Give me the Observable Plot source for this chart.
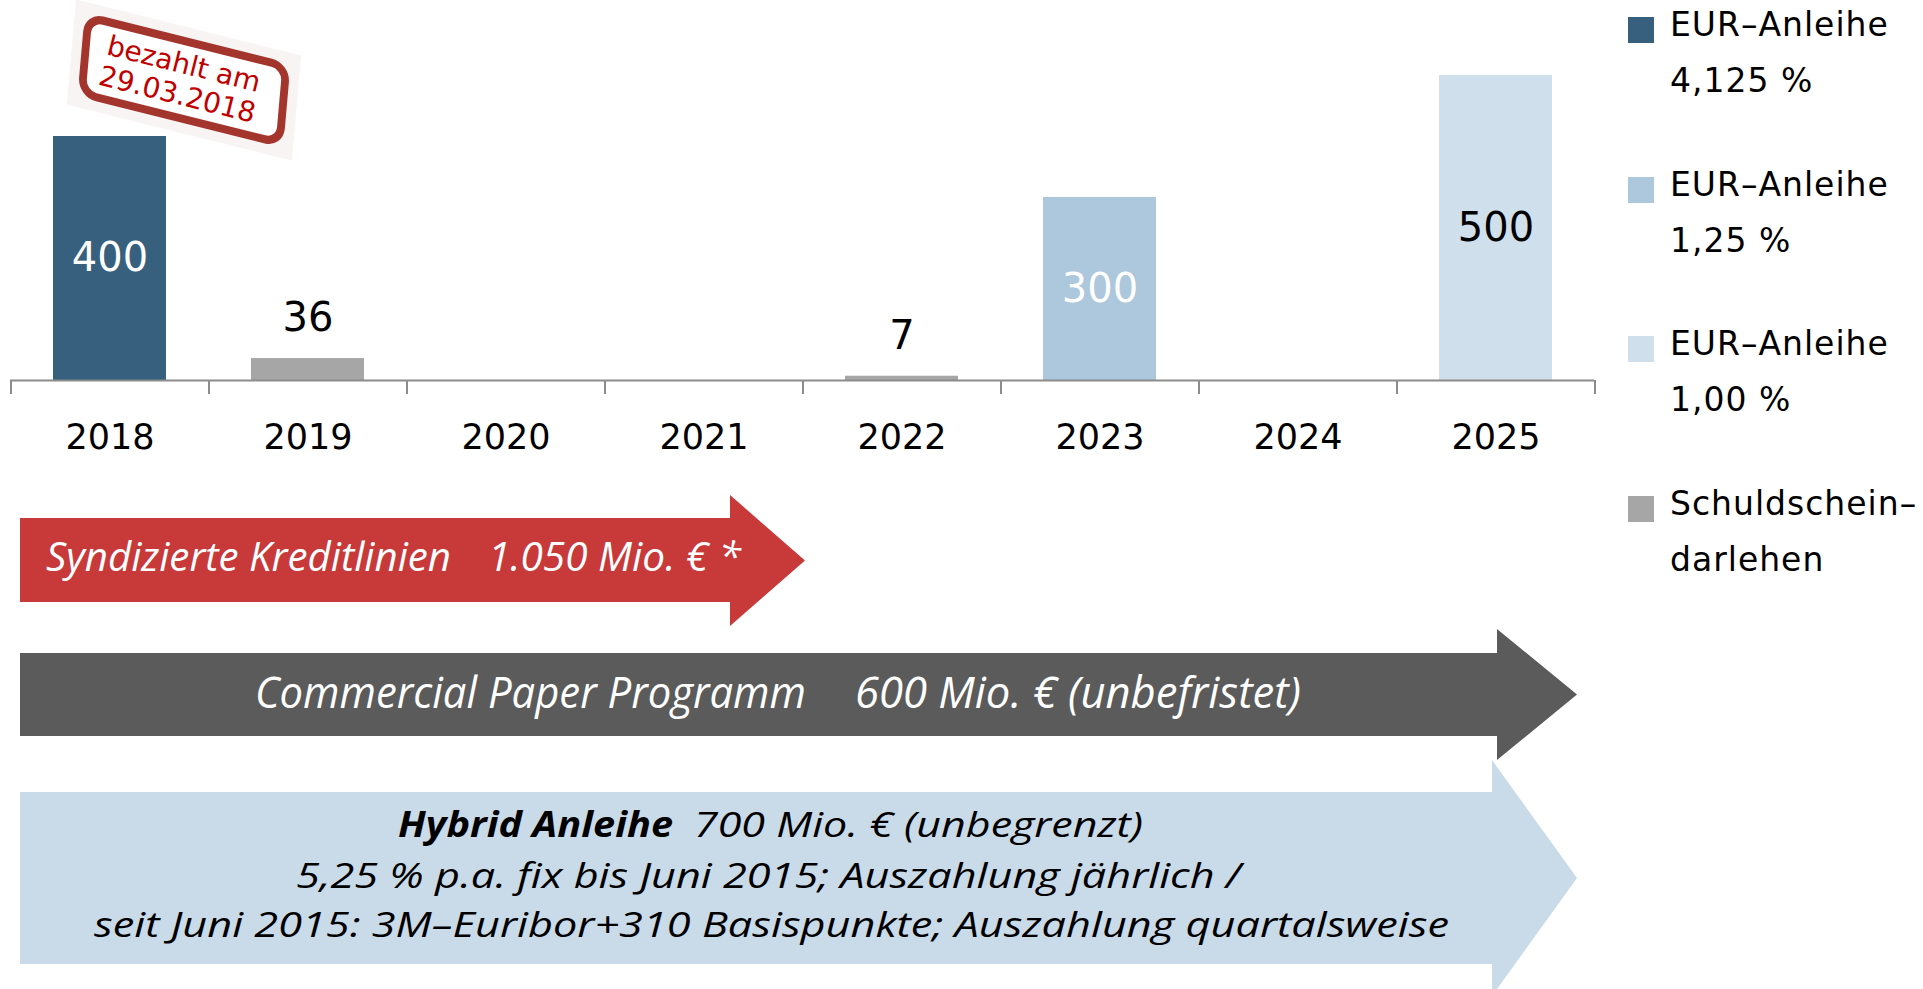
<!DOCTYPE html>
<html><head><meta charset="utf-8">
<script src="https://cdn.jsdelivr.net/npm/d3@7"></script>
<script src="https://cdn.jsdelivr.net/npm/@observablehq/plot@0.6"></script>
<style>
html,body{margin:0;padding:0;background:#fff;overflow:hidden}
#root{position:relative;width:1923px;height:989px}
#chart{position:absolute;left:0;top:0}
#overlay{position:absolute;left:0;top:0}
#legend{position:absolute;left:0;top:0}
.lg-sw{position:absolute;width:26px;height:26px}
.lg-tx{position:absolute;font-family:"DejaVu Sans",sans-serif;font-size:33px;letter-spacing:1px;color:#000;white-space:nowrap;line-height:56px}
</style></head>
<body><div id="root"><div id="chart"></div><svg id="overlay" width="1923" height="989"></svg><div id="legend"></div></div>
<script>
// ---- data ----
const years = ["2018","2019","2020","2021","2022","2023","2024","2025"];
const amounts = [400, 36, 0, 0, 7, 300, 0, 500];
const instruments = ["EUR–Anleihe 4,125 %","Schuldscheindarlehen",null,null,"Schuldscheindarlehen","EUR–Anleihe 1,25 %",null,"EUR–Anleihe 1,00 %"];

const seriesKeys = ["EUR–Anleihe 4,125 %","EUR–Anleihe 1,25 %","EUR–Anleihe 1,00 %","Schuldscheindarlehen"];
const seriesLine1 = ["EUR–Anleihe","EUR–Anleihe","EUR–Anleihe","Schuldschein–"];
const seriesLine2 = ["4,125 %","1,25 %","1,00 %","darlehen"];
const seriesColors = ["#37607f","#adc7dc","#cfdfeb","#a6a6a6"];
const seriesLabelColors = ["#ffffff","#ffffff","#000000","#000000"];

const creditLineText = ["Syndizierte Kreditlinien", "1.050 Mio. € *"];
const cpText = ["Commercial Paper Programm", "600 Mio. € (unbefristet)"];
const hybridText = ["Hybrid Anleihe", "700 Mio. € (unbegrenzt)",
  "5,25 % p.a. fix bis Juni 2015; Auszahlung jährlich /",
  "seit Juni 2015: 3M–Euribor+310 Basispunkte; Auszahlung quartalsweise"];
const stampText = ["bezahlt am", "29.03.2018"];

// ---- chart ----
const rows = years.map((year, i) => ({year, amount: amounts[i], instrument: instruments[i]})).filter(d => d.amount > 0);
const labelColorOf = k => seriesLabelColors[seriesKeys.indexOf(k)];
const W = 1610, ML = 10, MR = 16;
const step = (W - ML - MR) / years.length;
const axisColor = "#8c8c8c";

const chart = Plot.plot({
  width: W, height: 470,
  marginLeft: ML, marginRight: MR, marginTop: 75, marginBottom: 90,
  style: {fontFamily: "DejaVu Sans, sans-serif", background: "transparent", overflow: "visible", color: "#000"},
  x: {domain: years, paddingInner: 0.43, paddingOuter: 0.215, label: null},
  y: {domain: [0, 500], axis: null},
  color: {domain: seriesKeys, range: seriesColors},
  marks: [
    Plot.barY(rows, {x: "year", y: "amount", fill: "instrument"}),
    Plot.ruleY([0], {stroke: axisColor, strokeWidth: 2}),
    Plot.ruleX(years, {x: d => d, y1: 0, y2: 0, dx: -step / 2, insetBottom: -14, stroke: axisColor, strokeWidth: 2}),
    Plot.ruleX(years.slice(-1), {x: d => d, y1: 0, y2: 0, dx: step / 2, insetBottom: -14, stroke: axisColor, strokeWidth: 2}),
    Plot.axisX({tickSize: 0, tickPadding: 44, fontSize: 35, label: null}),
    Plot.text(rows.filter(d => d.amount >= 100 && labelColorOf(d.instrument) === "#ffffff"),
      {x: "year", y: d => d.amount / 2, text: d => String(d.amount), fill: "#ffffff", fontSize: 40}),
    Plot.text(rows.filter(d => d.amount >= 100 && labelColorOf(d.instrument) !== "#ffffff"),
      {x: "year", y: d => d.amount / 2, text: d => String(d.amount), fill: "#000000", fontSize: 40}),
    Plot.text(rows.filter(d => d.amount < 100),
      {x: "year", y: "amount", text: d => String(d.amount), dy: -40, fill: "#000000", fontSize: 40})
  ]
});
document.getElementById("chart").appendChild(chart);

// ---- legend ----
const legend = d3.select("#legend");
seriesKeys.forEach((k, i) => {
  const top = 159.5 * i;
  legend.append("div").attr("class", "lg-sw")
    .style("left", "1628px").style("top", (17 + top) + "px").style("background", seriesColors[i]);
  legend.append("div").attr("class", "lg-tx")
    .style("left", "1670px").style("top", (-3 + top) + "px")
    .html(seriesLine1[i] + "<br>" + seriesLine2[i]);
});

// ---- arrows (annotations) ----
const svg = d3.select("#overlay");
const arrows = [
  {fill: "#c8393a", x0: 20, xb: 730, xt: 805, b0: 518, b1: 602, h0: 495, h1: 626},
  {fill: "#5b5b5b", x0: 20, xb: 1497, xt: 1577, b0: 653, b1: 736, h0: 629, h1: 760},
  {fill: "#c9dae8", x0: 20, xb: 1492, xt: 1577, b0: 792, b1: 964, h0: 760, h1: 996}
];
arrows.forEach(a => {
  const cy = (a.h0 + a.h1) / 2;
  svg.append("polygon")
    .attr("points", [[a.x0,a.b0],[a.xb,a.b0],[a.xb,a.h0],[a.xt,cy],[a.xb,a.h1],[a.xb,a.b1],[a.x0,a.b1]].map(p => p.join(",")).join(" "))
    .attr("fill", a.fill);
});
function seg(text, x, w, y, size, fill, weight) {
  svg.append("text").text(text)
    .attr("x", x).attr("y", y)
    .attr("textLength", w).attr("lengthAdjust", "spacingAndGlyphs")
    .attr("font-family", "Open Sans, sans-serif").attr("font-style", "italic")
    .attr("font-weight", weight || 400)
    .attr("font-size", size).attr("fill", fill);
}
seg(creditLineText[0], 46, 405, 571, 40, "#fff");
seg(creditLineText[1], 488, 253, 571, 40, "#fff");
seg(cpText[0], 255, 551, 708, 44, "#fff");
seg(cpText[1], 855, 446, 708, 44, "#fff");
seg(hybridText[0], 398, 275, 837, 35, "#000", 700);
seg(hybridText[1], 694, 449, 837, 35, "#000");
seg(hybridText[2], 296, 945, 888, 35, "#000");
seg(hybridText[3], 94, 1355, 937, 35, "#000");

// ---- stamp ----
const st = svg.append("g").attr("transform", "translate(184,80) rotate(14)");
const sk = st.append("g").attr("transform", "skewX(9)");
sk.append("rect").attr("x", -116).attr("y", -52).attr("width", 232).attr("height", 104)
  .attr("fill", "#f7f4f3");
sk.append("rect").attr("x", -102).attr("y", -38).attr("width", 204).attr("height", 76)
  .attr("rx", 15).attr("fill", "#ffffff").attr("stroke", "#a3352d").attr("stroke-width", 8);
st.append("text").text(stampText[0]).attr("x", -4).attr("y", -6)
  .attr("text-anchor", "middle").attr("font-family", "DejaVu Sans, sans-serif")
  .attr("font-size", 28).attr("fill", "#c00000");
st.append("text").text(stampText[1]).attr("x", -3).attr("y", 25)
  .attr("text-anchor", "middle").attr("font-family", "DejaVu Sans, sans-serif")
  .attr("font-size", 28).attr("fill", "#c00000");
</script>
</body></html>
